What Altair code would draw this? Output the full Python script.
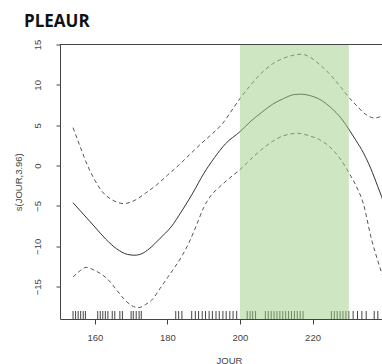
import altair as alt
import pandas as pd

# ---- data ----
fit_x = [154, 157, 160, 163, 166, 169, 171, 173, 175, 178, 181, 184, 187, 190, 193, 196,
         200, 203, 206, 209, 212, 215, 217, 219, 222, 225, 228, 230.3, 232, 234, 236, 238, 240]
fit_y = [-4.6, -6.1, -7.6, -9.1, -10.3, -11.0, -11.1, -10.9, -10.3, -9.0, -7.6, -5.6, -3.4, -1.0, 1.0, 2.7,
         4.2, 5.5, 6.6, 7.6, 8.3, 8.8, 8.85, 8.7, 8.2, 7.2, 5.8, 4.3, 3.1, 1.6, -0.3, -2.6, -5.0]

upper_x = [154, 156, 158, 160, 162, 165, 168, 171, 174, 177, 180, 183, 186, 189, 192, 195, 198,
           200, 203, 206, 209, 212, 215, 217, 219, 222, 225, 228, 230.3, 232, 234.5, 237, 239, 240]
upper_y = [4.7, 2.3, 0.0, -1.8, -3.2, -4.3, -4.7, -4.3, -3.4, -2.4, -1.2, 0.0, 1.3, 2.6, 3.8, 5.1, 7.0,
           8.3, 10.0, 11.5, 12.6, 13.3, 13.7, 13.8, 13.5, 12.5, 11.2, 9.6, 8.3, 7.5, 6.4, 5.9, 6.1, 6.3]

lower_x = [154, 156, 157.6, 160, 162, 164, 166, 168, 170, 172, 174, 176, 178, 180, 182, 184, 186, 188,
           190, 192, 194, 197, 200, 203, 206, 209, 212, 216, 219, 222, 225.7, 228, 230.3, 232, 234,
           236.3, 238, 240]
lower_y = [-13.8, -13.0, -12.6, -13.0, -13.5, -14.3, -15.4, -16.5, -17.3, -17.6, -17.2, -16.5, -15.2,
           -13.9, -12.6, -11.2, -9.5, -7.4, -5.2, -3.7, -2.8, -1.6, -0.5, 0.8, 2.0, 3.0, 3.7, 4.0, 3.7,
           3.2, 1.9, 0.6, -1.1, -2.5, -4.7, -9.2, -11.8, -14.5]

rug_days = [154, 154.7, 155.4, 156.1, 156.8, 157.4,
            160.8, 161.5, 162.2, 162.9, 163.6,
            164.8, 165.5, 166.9, 167.6,
            170.0, 170.6, 171.4, 172.2, 172.8,
            182.3, 183.1, 184.0,
            186.7, 187.7, 188.6, 189.6, 190.5, 191.5, 192.4, 193.4, 194.3, 195.3, 196.2, 197.2, 198.1, 199.1,
            202.0, 202.8, 203.5, 204.3,
            207.0, 207.8, 208.6, 209.4, 210.2, 211.0, 211.8, 212.6, 213.4, 214.2, 215.0, 215.8, 216.6, 217.4,
            225.2, 226.0, 226.8, 227.6, 228.4, 229.2, 230.0,
            231.2, 232.4, 233.6, 234.8,
            237.0, 238.0]

band_start = [200]
band_end = [230]

x_ticks = [160, 180, 200, 220, 240]
y_ticks = [-15, -10, -5, 0, 5, 10, 15]

# ---- chart ----
W, H = 322, 274.5
xs = alt.Scale(domain=[150.4, 239.15], nice=False, zero=False)
ys = alt.Scale(domain=[-19, 15], nice=False, zero=False)

FONT = "Liberation Sans"
TXT = "#444444"
FRAME = "#444444"

x_axis = alt.Axis(values=x_ticks, title="JOUR", grid=False, domain=True, domainColor=FRAME,
                  tickSize=5, tickColor=FRAME, labelPadding=8,
                  labelFont=FONT, labelFontSize=9.5, labelColor=TXT,
                  titleFont=FONT, titleFontSize=9.5, titleFontWeight="normal", titleColor=TXT,
                  titleX=169, titleY=44, titleBaseline="alphabetic", titleAlign="center")
y_axis = alt.Axis(values=y_ticks, title="s(JOUR,3.96)", grid=False, domain=True, domainColor=FRAME,
                  tickSize=4, tickColor=FRAME, labelPadding=14,
                  labelAngle=270, labelAlign="center", labelBaseline="bottom",
                  labelFont=FONT, labelFontSize=9.5, labelColor=TXT,
                  titleFont=FONT, titleFontSize=9.5, titleFontWeight="normal", titleColor=TXT,
                  titleAngle=270, titleX=-39, titleY=H / 2, titleBaseline="alphabetic",
                  titleAlign="center")

fit_df = pd.DataFrame({"x": fit_x, "y": fit_y})
up_df = pd.DataFrame({"x": upper_x, "y": upper_y})
lo_df = pd.DataFrame({"x": lower_x, "y": lower_y})
rug_df = pd.DataFrame({"x": rug_days})
band_df = pd.DataFrame({"x": band_start, "x2": band_end})

X = alt.X("x:Q", scale=xs, axis=x_axis)
Y = alt.Y("y:Q", scale=ys, axis=y_axis)

fit = alt.Chart(fit_df).mark_line(color="#333333", strokeWidth=1, interpolate="monotone", clip=True).encode(
    x=X, y=Y)
upper = alt.Chart(up_df).mark_line(color="#555555", strokeWidth=1, strokeDash=[4, 3],
                                   interpolate="monotone", clip=True).encode(x=X, y=Y)
lower = alt.Chart(lo_df).mark_line(color="#555555", strokeWidth=1, strokeDash=[4, 3],
                                   interpolate="monotone", clip=True).encode(x=X, y=Y)
rug = alt.Chart(rug_df).mark_rule(color="#444444", strokeWidth=1, clip=True).encode(
    x=X,
    y=alt.value(H),
    y2=alt.value(H - 8),
)
band = alt.Chart(band_df).mark_rect(color="#9fcd88", opacity=0.5).encode(
    x=X,
    x2="x2:Q",
    y=alt.value(0),
    y2=alt.value(H),
)
top_line = alt.Chart(band_df).mark_rule(color=FRAME, strokeWidth=1).encode(
    x=alt.value(0),
    x2=alt.value(W),
    y=alt.value(0),
)

chart = alt.layer(fit, upper, lower, rug, band, top_line).properties(
    width=W, height=H,
    title=alt.TitleParams("PLEAUR", anchor="start", frame="group", font="Open Sans",
                          fontSize=17, fontWeight="bold", color="#111111",
                          baseline="alphabetic", offset=19, dx=-36, dy=24),
    autosize=alt.AutoSizeParams(type="none"),
    padding={"left": 60, "top": 44.5, "right": 0, "bottom": 45},
).configure_view(stroke=None)

chart.save("out.html", embed_options={"renderer": "svg", "actions": False})
